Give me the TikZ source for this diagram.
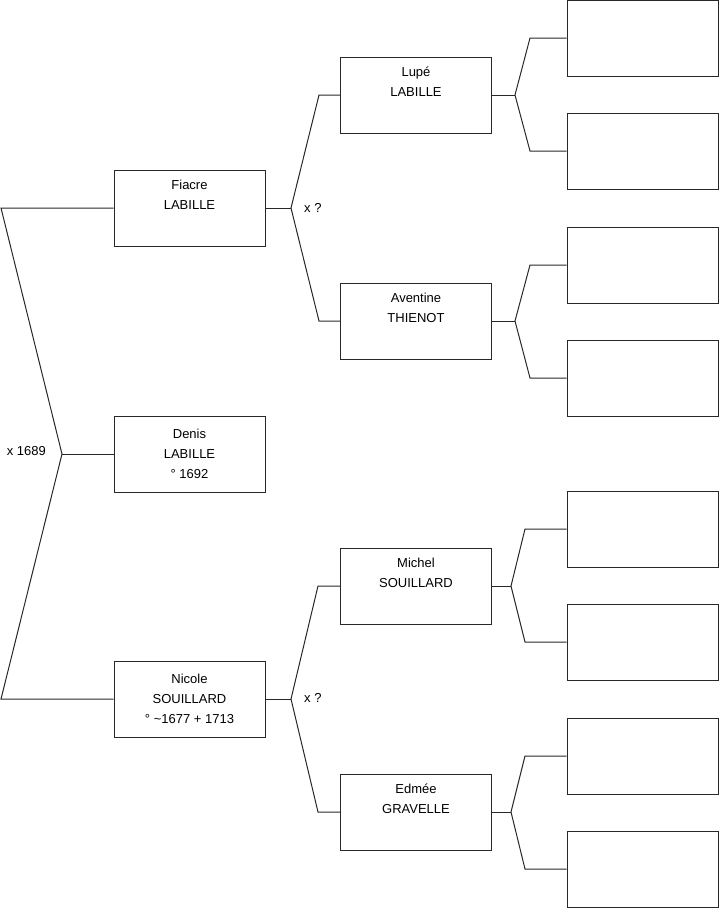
\documentclass[tikz,border=0pt]{standalone}
\usepackage{fontspec}
\setmainfont{Liberation Sans}
\usetikzlibrary{positioning}
\definecolor{ink}{RGB}{40,40,40}
\tikzset{
  person/.style={draw=ink, line width=1pt, fill=white, align=center, minimum width=151pt, minimum height=76pt, inner sep=0pt, font=\fontsize{13}{20}\selectfont},
  blank/.style={draw=ink, line width=1pt, fill=white, minimum width=151pt, minimum height=76pt, inner sep=0pt},
  link/.style={draw=ink, line width=1pt},
  lbl/.style={font=\fontsize{13}{15}\selectfont, inner sep=1pt}
}
\begin{document}
\begin{tikzpicture}[x=1pt, y=-1pt]
  \useasboundingbox (0,0) rectangle (719,908);
  % generation 1
  \node[person] (denis) at (189.5,454) {Denis\\LABILLE\\° 1692};
  % generation 2
  \node[person] (fiacre) at (189.5,208) {Fiacre\\LABILLE\\\strut};
  \node[person] (nicole) at (189.5,699) {Nicole\\SOUILLARD\\° \textasciitilde 1677 + 1713};
  % generation 3
  \node[person] (lupe) at (416,95) {Lupé\\LABILLE\\\strut};
  \node[person] (aventine) at (416,321) {Aventine\\THIENOT\\\strut};
  \node[person] (michel) at (416,586) {Michel\\SOUILLARD\\\strut};
  \node[person] (edmee) at (416,812) {Edmée\\GRAVELLE\\\strut};
  % generation 4 (unknown)
  \foreach \i/\y in {1/38,2/151,3/265,4/378,5/529,6/642,7/756,8/869}
    \node[blank] (e\i) at (642.5,\y) {};
  % junctions
  \coordinate (jden) at (62,454);
  \coordinate (jdent) at (1,208);
  \coordinate (jdenb) at (1,699);
  \coordinate (jfia) at (291,208);
  \coordinate (jfiat) at (319,95);
  \coordinate (jfiab) at (319,321);
  \coordinate (jnic) at (291,699);
  \coordinate (jnict) at (318,586);
  \coordinate (jnicb) at (318,812);
  \coordinate (jlup) at (515,95);
  \coordinate (jlupt) at (530,38);
  \coordinate (jlupb) at (530,151);
  \coordinate (jave) at (515,321);
  \coordinate (javet) at (530,265);
  \coordinate (javeb) at (530,378);
  \coordinate (jmic) at (511,586);
  \coordinate (jmict) at (525,529);
  \coordinate (jmicb) at (525,642);
  \coordinate (jedm) at (511,812);
  \coordinate (jedmt) at (525,756);
  \coordinate (jedmb) at (525,869);
  % links
  \draw[link] (denis.west) -- (jden);
  \draw[link] (fiacre.west) -- (jdent) -- (jden) -- (jdenb) -- (nicole.west);
  \draw[link] (fiacre.east) -- (jfia);
  \draw[link] (lupe.west) -- (jfiat) -- (jfia) -- (jfiab) -- (aventine.west);
  \draw[link] (nicole.east) -- (jnic);
  \draw[link] (michel.west) -- (jnict) -- (jnic) -- (jnicb) -- (edmee.west);
  \draw[link] (lupe.east) -- (jlup);
  \draw[link] (e1.west) -- (jlupt) -- (jlup) -- (jlupb) -- (e2.west);
  \draw[link] (aventine.east) -- (jave);
  \draw[link] (e3.west) -- (javet) -- (jave) -- (javeb) -- (e4.west);
  \draw[link] (michel.east) -- (jmic);
  \draw[link] (e5.west) -- (jmict) -- (jmic) -- (jmicb) -- (e6.west);
  \draw[link] (edmee.east) -- (jedm);
  \draw[link] (e7.west) -- (jedmt) -- (jedm) -- (jedmb) -- (e8.west);
  % marriages
  \node[lbl, anchor=east] (mden) at (47,451) {x 1689};
  \node[lbl, anchor=west] (mfia) at (303,208) {x ?};
  \node[lbl, anchor=west] (mnic) at (303,698) {x ?};
\end{tikzpicture}
\end{document}
